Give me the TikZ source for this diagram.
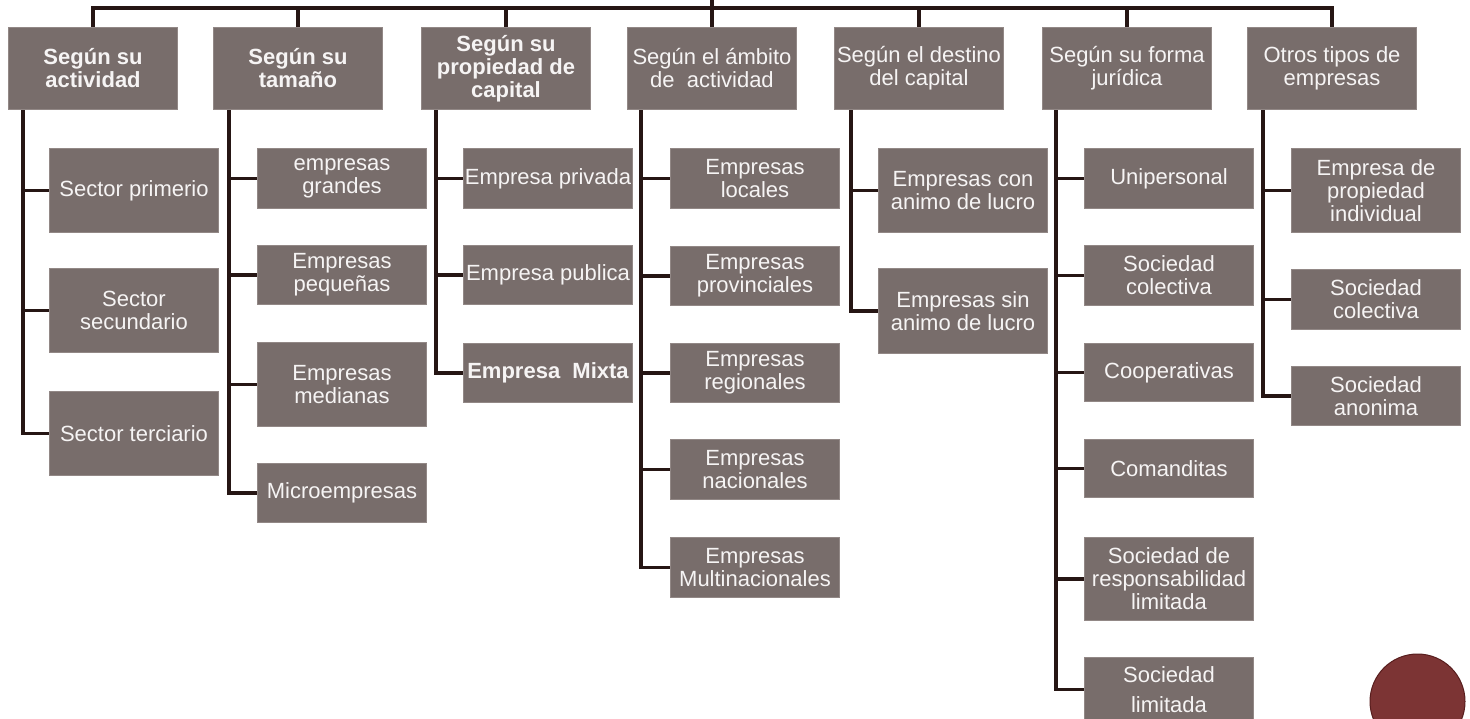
\documentclass[tikz,border=0pt]{standalone}
\usepackage{fontspec}
\setmainfont{Liberation Sans}
\definecolor{boxfill}{RGB}{120,109,107}
\definecolor{boxedge}{RGB}{146,136,134}
\definecolor{linecol}{RGB}{38,22,20}
\definecolor{dotred}{RGB}{124,52,52}
\definecolor{dotedge}{RGB}{88,30,30}
\definecolor{txtcol}{RGB}{246,244,244}
\begin{document}
\begin{tikzpicture}[x=1pt,y=-1pt,
  anybox/.style={rectangle, fill=boxfill, draw=boxedge, line width=1pt,
    text=txtcol, align=center, inner sep=0pt, anchor=north west,
    minimum width=169pt, font=\fontsize{22}{23}\selectfont},
  hbox/.style={anybox, minimum height=82pt},
  tallbox/.style={anybox, minimum height=84pt},
  shortbox/.style={anybox, minimum height=59pt},
  conn/.style={draw=linecol, line width=3.6pt}]
\useasboundingbox (0,0) rectangle (1470,718);
\fill[white] (0,0) rectangle (1470,718);

% header boxes
\node[hbox] (h1) at (8,27) {\bfseries Según su\\\bfseries actividad};
\node[hbox] (h2) at (213,27) {\bfseries Según su\\\bfseries tamaño};
\node[hbox] (h3) at (421,27) {\bfseries Según su\\\bfseries propiedad de\\\bfseries capital};
\node[hbox] (h4) at (627,27) {Según el ámbito\\de\ \ actividad};
\node[hbox] (h5) at (834,27) {Según el destino\\del capital};
\node[hbox] (h6) at (1042,27) {Según su forma\\jurídica};
\node[hbox] (h7) at (1247,27) {Otros tipos de\\empresas};

% column 1
\node[tallbox] (c11) at (49,148) {Sector primerio};
\node[tallbox] (c12) at (49,268) {Sector\\secundario};
\node[tallbox] (c13) at (49,391) {Sector terciario};
% column 2
\node[shortbox, minimum height=60pt] (c21) at (257,148) {empresas\\grandes};
\node[shortbox] (c22) at (257,245) {Empresas\\pequeñas};
\node[tallbox] (c23) at (257,342) {Empresas\\medianas};
\node[shortbox] (c24) at (257,463) {Microempresas};
% column 3
\node[shortbox, minimum height=60pt] (c31) at (463,148) {Empresa privada};
\node[shortbox] (c32) at (463,245) {Empresa publica};
\node[shortbox] (c33) at (463,343) {\bfseries Empresa~~Mixta};
% column 4
\node[shortbox, minimum height=60pt] (c41) at (670,148) {Empresas\\locales};
\node[shortbox] (c42) at (670,246) {Empresas\\provinciales};
\node[shortbox] (c43) at (670,343) {Empresas\\regionales};
\node[shortbox, minimum height=60pt] (c44) at (670,439) {Empresas\\nacionales};
\node[shortbox, minimum height=60pt] (c45) at (670,537) {Empresas\\Multinacionales};
% column 5
\node[tallbox] (c51) at (878,148) {Empresas con\\animo de lucro};
\node[tallbox, minimum height=85pt] (c52) at (878,268) {Empresas sin\\animo de lucro};
% column 6
\node[shortbox, minimum height=60pt] (c61) at (1084,148) {Unipersonal};
\node[shortbox, minimum height=60pt] (c62) at (1084,245) {Sociedad\\colectiva};
\node[shortbox, minimum height=58pt] (c63) at (1084,343) {Cooperativas};
\node[shortbox, minimum height=58pt] (c64) at (1084,439) {Comanditas};
\node[tallbox, minimum height=83pt] (c65) at (1084,537) {Sociedad de\\responsabilidad\\limitada};
\node[tallbox, minimum height=64pt] (c66) at (1084,657) {Sociedad\\[7pt]limitada};
% column 7
\node[tallbox] (c71) at (1291,148) {Empresa de\\propiedad\\individual};
\node[shortbox, minimum height=60pt] (c72) at (1291,269) {Sociedad\\colectiva};
\node[shortbox] (c73) at (1291,366) {Sociedad\\anonima};

% top connectors
\draw[conn] (h1.north) -- ++(0,-19) -| (h7.north);
\draw[conn] (h4.north) -- ++(0,-27);
\foreach \h in {h2,h3,h5,h6} \draw[conn] (\h.north) -- ++(0,-19);

% column connectors
\foreach \c in {c11,c12,c13} \draw[conn] ([xshift=15pt]h1.south west) |- (\c.west);
\foreach \c in {c21,c22,c23,c24} \draw[conn] ([xshift=16pt]h2.south west) |- (\c.west);
\foreach \c in {c31,c32,c33} \draw[conn] ([xshift=15pt]h3.south west) |- (\c.west);
\foreach \c in {c41,c42,c43,c44,c45} \draw[conn] ([xshift=14pt]h4.south west) |- (\c.west);
\foreach \c in {c51,c52} \draw[conn] ([xshift=17pt]h5.south west) |- (\c.west);
\foreach \c in {c61,c62,c63,c64,c65,c66} \draw[conn] ([xshift=14pt]h6.south west) |- (\c.west);
\foreach \c in {c71,c72,c73} \draw[conn] ([xshift=16pt]h7.south west) |- (\c.west);

% decorative circle
\node[circle, fill=dotred, draw=dotedge, line width=1pt, minimum size=95pt, inner sep=0pt] (dot) at (1417.5,701.5) {};
\end{tikzpicture}
\end{document}
